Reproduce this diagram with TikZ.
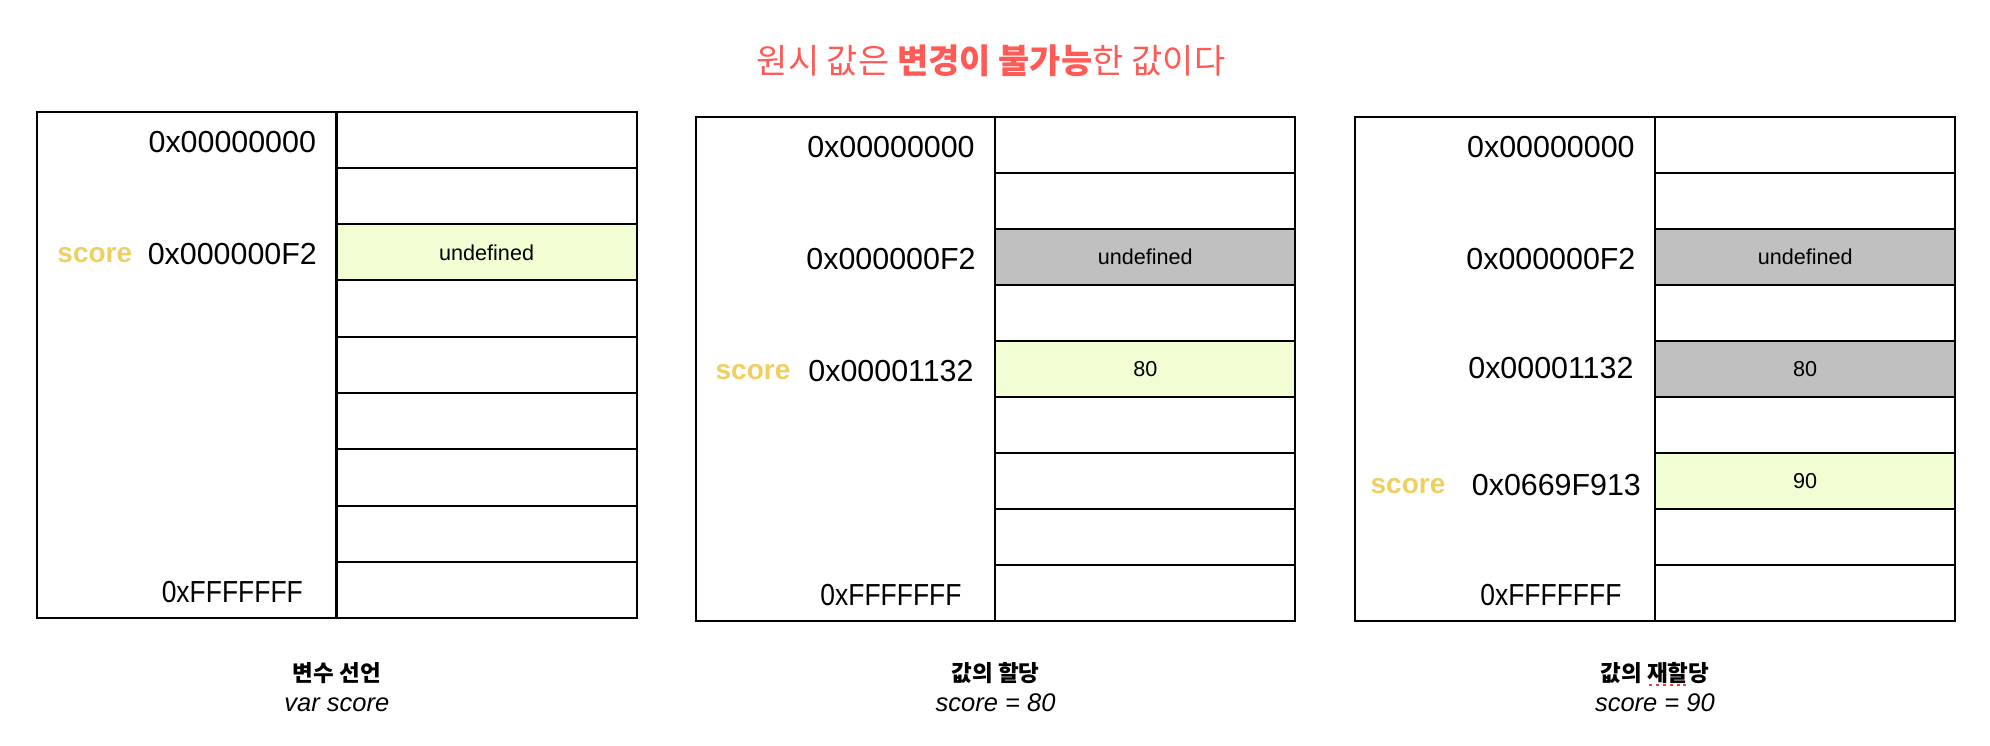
\documentclass[tikz,border=0pt]{standalone}
\usepackage{fontspec}
\setmainfont{Liberation Sans}
\newfontfamily\narrowsans{Liberation Sans}[FakeStretch=0.87]
\newfontfamily\kr{Noto Sans CJK KR}
\definecolor{titlered}{HTML}{FF5A55}
\definecolor{scoreyellow}{HTML}{F0CF62}
\definecolor{newgreen}{HTML}{F1FDD3}
\definecolor{oldgray}{HTML}{C0C0C0}
\definecolor{spellred}{HTML}{E8453C}
\newcommand\spellmark[1]{\setbox0\hbox{#1}\rlap{\color{spellred}\hbox to \wd0{\xleaders\hbox to 6pt{\hss\vrule height -2.5pt depth 5pt width 3pt\hss}\hfill}}#1}
\tikzset{
  panelbox/.style={draw, line width=2pt, minimum width=299.5pt, inner sep=0pt, outer sep=0pt},
  cell/.style={draw, line width=2pt, minimum width=300pt, inner sep=0pt, outer sep=0pt, font=\fontsize{21.6}{25}\selectfont},
  addr/.style={font=\fontsize{30.4}{35}\selectfont, inner sep=0pt, yshift=-2pt},
  lastaddr/.style={addr, font=\narrowsans\fontsize{30.4}{35}\selectfont},
  varname/.style={font=\bfseries\fontsize{28}{32}\selectfont, text=scoreyellow, inner sep=0pt, yshift=-3pt},
  titletext/.style={font=\kr\fontsize{34}{40}\selectfont, text=titlered, anchor=base, inner sep=0pt},
  capkr/.style={font=\kr\bfseries\fontsize{22.5}{27}\selectfont, anchor=base, inner sep=0pt},
  capit/.style={font=\itshape\fontsize{25.5}{30}\selectfont, anchor=base, inner sep=0pt}
}
% #1 prefix, #2 left, #3 top, #4 row height, #5 total height, #6 rows
\newcommand\mempanel[6]{%
  \node[panelbox, minimum height=#5pt, anchor=north west] (#1box) at (#2,#3) {};
  \foreach \c/\t [count=\i] in {#6}
    \node[cell, minimum height=#4pt, fill=\c] (#1r\i) at (#2+449.8, #3+\i*#4-0.5*#4) {\t};
}
\begin{document}
\begin{tikzpicture}[x=1pt,y=-1pt]
\useasboundingbox (0,0) rectangle (1990,746);

\node[titletext] (title) at (991,74) {원시 값은 \textbf{변경이 불가능}한 값이다};

% panel 1
\mempanel{p}{36.8}{111.7}{56.26}{506.3}{white/{},white/{},newgreen/undefined,white/{},white/{},white/{},white/{},white/{},white/{}}
\node[addr, xshift=195.5pt] (pa1) at (pbox.west |- pr1) {0x00000000};
\node[addr, xshift=195.5pt] (pa3) at (pbox.west |- pr3) {0x000000F2};
\node[lastaddr, xshift=195.5pt] (pa9) at (pbox.west |- pr9) {0xFFFFFFF};
\node[varname, xshift=58pt] (ps) at (pbox.west |- pr3) {score};
\node[capkr] (pcap) at (336.9,681) {변수 선언};
\node[capit] (pcode) at (336.9,711) {var score};

% panel 2
\mempanel{q}{695.5}{117}{56}{504}{white/{},white/{},oldgray/undefined,white/{},newgreen/80,white/{},white/{},white/{},white/{}}
\node[addr, xshift=195.5pt] (qa1) at (qbox.west |- qr1) {0x00000000};
\node[addr, xshift=195.5pt] (qa3) at (qbox.west |- qr3) {0x000000F2};
\node[addr, xshift=195.5pt] (qa5) at (qbox.west |- qr5) {0x00001132};
\node[lastaddr, xshift=195.5pt] (qa9) at (qbox.west |- qr9) {0xFFFFFFF};
\node[varname, xshift=57.5pt] (qs) at (qbox.west |- qr5) {score};
\node[capkr] (qcap) at (995.6,681) {값의 할당};
\node[capit] (qcode) at (995.6,711) {score = 80};

% panel 3
\mempanel{r}{1355.4}{117}{56}{504}{white/{},white/{},oldgray/undefined,white/{},oldgray/80,white/{},newgreen/90,white/{},white/{}}
\node[addr, xshift=195.5pt] (ra1) at (rbox.west |- rr1) {0x00000000};
\node[addr, xshift=195.5pt] (ra3) at (rbox.west |- rr3) {0x000000F2};
\node[addr, xshift=195.5pt, yshift=2.5pt] (ra5) at (rbox.west |- rr5) {0x00001132};
\node[addr, xshift=201pt, yshift=-2pt] (ra7) at (rbox.west |- rr7) {0x0669F913};
\node[lastaddr, xshift=195.5pt] (ra9) at (rbox.west |- rr9) {0xFFFFFFF};
\node[varname, xshift=52.6pt, yshift=-2pt] (rs) at (rbox.west |- rr7) {score};
\node[capkr] (rcap) at (1654.9,681) {값의 \spellmark{재할}당};
\node[capit] (rcode) at (1654.9,711) {score = 90};
\end{tikzpicture}
\end{document}
